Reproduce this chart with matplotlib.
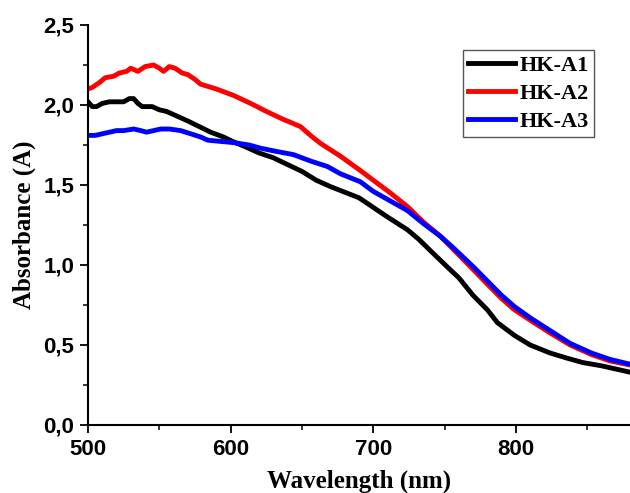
import matplotlib.pyplot as plt
from matplotlib.ticker import MultipleLocator, FuncFormatter

# HK-A1 (black)
wl_a1 = [500, 503, 506, 510, 515, 520, 525, 529, 532, 535, 538, 545, 550, 555, 560, 570,
         578, 586, 595, 602, 610, 620, 630, 637, 650, 660, 670, 680, 690, 700, 710, 724,
         732, 740, 747, 754, 760, 770, 780, 787, 799, 810, 824, 835, 847, 860, 870, 880]
abs_a1 = [2.02, 1.99, 1.99, 2.01, 2.02, 2.02, 2.02, 2.04, 2.04, 2.01, 1.99, 1.99, 1.97, 1.96, 1.94, 1.90,
          1.865, 1.83, 1.80, 1.77, 1.74, 1.70, 1.67, 1.64, 1.585, 1.53, 1.49, 1.455, 1.42, 1.36, 1.30, 1.22,
          1.16, 1.09, 1.03, 0.97, 0.92, 0.81, 0.72, 0.64, 0.56, 0.50, 0.45, 0.42, 0.39, 0.37, 0.35, 0.33]

# HK-A2 (red)
wl_a2 = [500, 503, 508, 512, 518, 522, 527, 530, 535, 540, 546, 550, 553, 557, 561, 566,
         570, 575, 579, 590, 602, 614, 625, 637, 649, 656, 663, 677, 691, 700, 712, 724,
         735, 747, 757, 768, 780, 790, 799, 810, 824, 838, 853, 866, 880]
abs_a2 = [2.10, 2.11, 2.14, 2.17, 2.18, 2.20, 2.21, 2.23, 2.21, 2.24, 2.25, 2.23, 2.21, 2.24, 2.23, 2.20,
          2.19, 2.16, 2.13, 2.10, 2.06, 2.01, 1.96, 1.91, 1.865, 1.81, 1.76, 1.68, 1.59, 1.53, 1.45, 1.365,
          1.27, 1.18, 1.09, 0.99, 0.88, 0.79, 0.72, 0.655, 0.575, 0.50, 0.44, 0.40, 0.375]

# HK-A3 (blue)
wl_a3 = [500, 505, 510, 515, 520, 525, 532, 537, 541, 546, 551, 557, 565, 572, 579, 584,
         590, 602, 613, 621, 632, 644, 656, 668, 677, 691, 700, 712, 724, 735, 747, 757,
         770, 780, 790, 799, 810, 824, 838, 853, 866, 880]
abs_a3 = [1.81, 1.81, 1.82, 1.83, 1.84, 1.84, 1.85, 1.84, 1.83, 1.84, 1.85, 1.85, 1.84, 1.82, 1.80, 1.78,
          1.775, 1.765, 1.75, 1.73, 1.71, 1.69, 1.65, 1.615, 1.57, 1.52, 1.46, 1.40, 1.34, 1.26, 1.18, 1.10,
          0.99, 0.90, 0.81, 0.74, 0.67, 0.59, 0.51, 0.45, 0.41, 0.38]

labels = ['HK-A1', 'HK-A2', 'HK-A3']

fig = plt.figure(figsize=(6.3, 4.93), dpi=100)
ax = fig.add_axes([88 / 630, 1 - 425 / 493, 1 - 88 / 630, 400 / 493])

ax.plot(wl_a1, abs_a1, color='black', lw=3.5, label=labels[0])
ax.plot(wl_a2, abs_a2, color='#ff0000', lw=3.5, label=labels[1])
ax.plot(wl_a3, abs_a3, color='#0000ff', lw=3.5, label=labels[2])

ax.set_xlim(500, 880)
ax.set_ylim(0, 2.5)
ax.xaxis.set_major_locator(MultipleLocator(100))
ax.xaxis.set_minor_locator(MultipleLocator(50))
ax.yaxis.set_major_locator(MultipleLocator(0.5))
ax.yaxis.set_minor_locator(MultipleLocator(0.25))
ax.yaxis.set_major_formatter(FuncFormatter(lambda v, p: f'{v:.1f}'.replace('.', ',')))

for s in ['top', 'right']:
    ax.spines[s].set_visible(False)
for s in ['left', 'bottom']:
    ax.spines[s].set_linewidth(1.5)

ax.tick_params(which='major', direction='out', length=6, width=1.3, pad=4)
ax.tick_params(which='minor', direction='out', length=3.5, width=1.1)
for t in ax.get_xticklabels() + ax.get_yticklabels():
    t.set_fontfamily('Liberation Sans')
    t.set_fontweight('bold')
    t.set_fontsize(16)

ax.set_xlabel('Wavelength (nm)', fontfamily='Liberation Serif', fontweight='bold',
              fontsize=18, labelpad=7)
ax.set_ylabel('Absorbance (A)', fontfamily='Liberation Serif', fontweight='bold',
              fontsize=18, labelpad=5)

leg = ax.legend(loc='upper right', bbox_to_anchor=(0.934, 0.9375), borderaxespad=0,
                prop={'family': 'Liberation Serif', 'weight': 'bold', 'size': 16},
                fancybox=False, framealpha=1, edgecolor='#555555',
                handlelength=2.1, handletextpad=0.2, labelspacing=0.33, borderpad=0.25)
leg.get_frame().set_linewidth(1.0)

fig.savefig('out.png', dpi=100)
